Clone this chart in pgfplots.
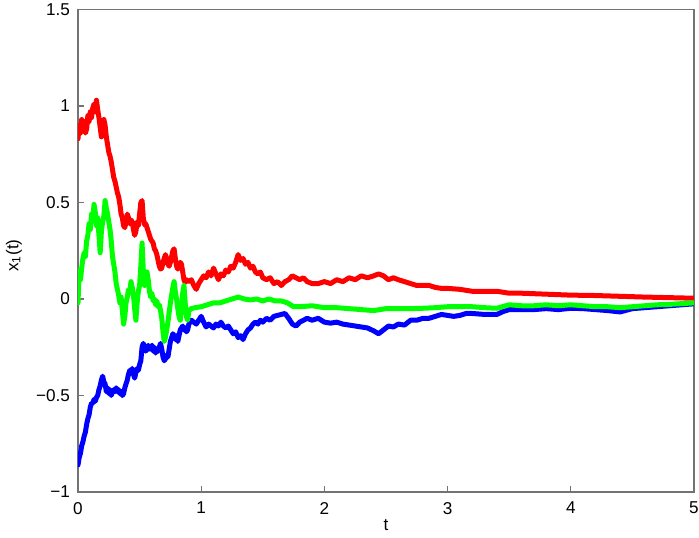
\documentclass[border=0pt]{standalone}
\usepackage{pgfplots}
\pgfplotsset{compat=1.18}
\usepackage{fontspec}
\setmainfont{Liberation Sans}

% x1(t) trajectories
\pgfplotstableread{
t y
0 0.83
0.01 0.90
0.02 0.86
0.03 0.93
0.04 0.88
0.05 0.92
0.06 0.86
0.07 0.88
0.08 0.95
0.09 0.92
0.10 0.97
0.11 0.94
0.12 0.99
0.13 1.01
0.14 0.97
0.15 1.03
0.16 0.98
0.17 0.94
0.18 0.89
0.19 0.84
0.20 0.88
0.21 0.93
0.22 0.90
0.23 0.84
0.24 0.80
0.25 0.76
0.26 0.74
0.27 0.71
0.28 0.67
0.29 0.63
0.30 0.61
0.31 0.58
0.32 0.55
0.33 0.53
0.34 0.49
0.35 0.44
0.36 0.42
0.37 0.38
0.38 0.37
0.39 0.40
0.40 0.44
0.41 0.42
0.42 0.39
0.43 0.41
0.44 0.40
0.45 0.36
0.46 0.33
0.47 0.35
0.48 0.40
0.49 0.38
0.50 0.44
0.51 0.50
0.52 0.51
0.53 0.42
0.54 0.385
0.55 0.39
0.56 0.37
0.57 0.35
0.58 0.33
0.59 0.31
0.60 0.30
0.61 0.29
0.62 0.26
0.63 0.25
0.64 0.23
0.65 0.20
0.66 0.17
0.67 0.155
0.68 0.16
0.69 0.19
0.70 0.21
0.71 0.23
0.72 0.21
0.73 0.18
0.74 0.17
0.75 0.19
0.76 0.22
0.77 0.25
0.78 0.26
0.79 0.21
0.80 0.17
0.81 0.155
0.82 0.17
0.83 0.19
0.84 0.18
0.85 0.14
0.86 0.10
0.87 0.085
0.88 0.10
0.90 0.09
0.92 0.10
0.94 0.07
0.96 0.05
0.98 0.08
1.00 0.10
1.02 0.12
1.04 0.11
1.06 0.14
1.08 0.12
1.10 0.16
1.12 0.13
1.14 0.10
1.16 0.13
1.18 0.12
1.20 0.15
1.22 0.14
1.24 0.17
1.26 0.16
1.28 0.19
1.30 0.23
1.32 0.20
1.34 0.21
1.36 0.18
1.38 0.19
1.40 0.16
1.42 0.17
1.44 0.14
1.46 0.13
1.48 0.14
1.50 0.11
1.53 0.10
1.56 0.11
1.59 0.08
1.62 0.09
1.65 0.07
1.68 0.09
1.71 0.10
1.74 0.12
1.77 0.11
1.80 0.10
1.83 0.11
1.86 0.09
1.90 0.08
1.95 0.08
2.00 0.09
2.05 0.08
2.10 0.10
2.15 0.09
2.20 0.11
2.25 0.10
2.30 0.12
2.35 0.11
2.40 0.12
2.44 0.13
2.48 0.12
2.52 0.10
2.56 0.11
2.60 0.10
2.65 0.09
2.70 0.08
2.75 0.07
2.80 0.07
2.85 0.07
2.90 0.06
2.95 0.055
3.00 0.055
3.10 0.05
3.20 0.04
3.30 0.04
3.40 0.04
3.50 0.03
3.60 0.03
3.80 0.025
4.00 0.02
4.20 0.018
4.40 0.014
4.60 0.01
4.80 0.007
5.00 0.004
}\redtraj

\pgfplotstableread{
t y
0 -0.02
0.01 0.15
0.02 0.10
0.03 0.16
0.04 0.21
0.05 0.24
0.06 0.22
0.07 0.30
0.08 0.33
0.09 0.39
0.10 0.36
0.11 0.44
0.12 0.41
0.13 0.49
0.14 0.45
0.15 0.38
0.16 0.42
0.17 0.33
0.18 0.24
0.19 0.35
0.20 0.40
0.21 0.43
0.22 0.51
0.23 0.47
0.24 0.44
0.25 0.40
0.26 0.36
0.27 0.30
0.28 0.22
0.29 0.18
0.30 0.14
0.31 0.08
0.32 0.05
0.33 0.02
0.34 -0.02
0.35 0.01
0.36 -0.06
0.37 -0.13
0.38 -0.09
0.39 -0.02
0.40 0.01
0.41 0.05
0.42 0.03
0.43 0.09
0.44 0.06
0.45 0.02
0.46 -0.05
0.47 -0.11
0.48 -0.02
0.49 0.04
0.50 0.07
0.51 0.17
0.52 0.29
0.53 0.15
0.54 0.07
0.55 0.11
0.56 0.14
0.57 0.10
0.58 0.04
0.59 0.01
0.60 0.03
0.61 -0.01
0.62 0.00
0.63 -0.03
0.64 -0.01
0.65 -0.04
0.66 -0.03
0.67 -0.06
0.68 -0.10
0.69 -0.17
0.70 -0.22
0.71 -0.20
0.72 -0.16
0.73 -0.12
0.74 -0.07
0.75 -0.02
0.76 0.02
0.77 0.06
0.78 0.09
0.79 0.04
0.80 0.00
0.81 -0.05
0.82 -0.09
0.83 -0.11
0.84 -0.04
0.85 0.03
0.86 0.07
0.87 -0.02
0.88 -0.09
0.89 -0.11
0.90 -0.06
0.92 -0.05
0.95 -0.045
1.00 -0.04
1.05 -0.03
1.10 -0.02
1.15 -0.02
1.20 -0.01
1.25 0.00
1.30 0.01
1.35 0.00
1.40 -0.005
1.45 0.00
1.50 -0.01
1.55 0.00
1.60 -0.01
1.65 -0.01
1.70 -0.02
1.75 -0.04
1.80 -0.04
1.90 -0.035
2.00 -0.045
2.10 -0.045
2.20 -0.05
2.30 -0.055
2.40 -0.06
2.50 -0.05
2.60 -0.05
2.70 -0.05
2.80 -0.048
2.90 -0.045
3.00 -0.04
3.10 -0.04
3.20 -0.04
3.30 -0.045
3.40 -0.048
3.50 -0.03
3.60 -0.035
3.70 -0.035
3.80 -0.03
3.90 -0.035
4.00 -0.03
4.10 -0.035
4.20 -0.04
4.30 -0.04
4.40 -0.045
4.50 -0.04
4.60 -0.035
4.70 -0.03
4.80 -0.028
4.90 -0.024
5.00 -0.02
}\greentraj

\pgfplotstableread{
t y
0 -0.86
0.01 -0.82
0.02 -0.80
0.03 -0.76
0.04 -0.74
0.05 -0.71
0.06 -0.69
0.07 -0.65
0.08 -0.62
0.09 -0.60
0.10 -0.56
0.11 -0.54
0.12 -0.54
0.13 -0.52
0.14 -0.53
0.15 -0.51
0.16 -0.50
0.17 -0.47
0.18 -0.45
0.19 -0.42
0.20 -0.40
0.21 -0.43
0.22 -0.44
0.23 -0.48
0.24 -0.46
0.25 -0.49
0.26 -0.47
0.27 -0.50
0.28 -0.48
0.29 -0.47
0.30 -0.48
0.31 -0.46
0.32 -0.48
0.33 -0.47
0.34 -0.49
0.35 -0.48
0.36 -0.50
0.37 -0.49
0.38 -0.46
0.39 -0.44
0.40 -0.42
0.41 -0.39
0.42 -0.37
0.43 -0.38
0.44 -0.36
0.45 -0.39
0.46 -0.41
0.47 -0.38
0.48 -0.36
0.49 -0.37
0.50 -0.34
0.51 -0.32
0.52 -0.25
0.53 -0.23
0.54 -0.25
0.55 -0.27
0.56 -0.26
0.57 -0.24
0.58 -0.26
0.59 -0.25
0.60 -0.24
0.61 -0.27
0.62 -0.25
0.63 -0.28
0.64 -0.26
0.65 -0.27
0.66 -0.25
0.67 -0.23
0.68 -0.26
0.69 -0.30
0.70 -0.32
0.71 -0.31
0.72 -0.29
0.73 -0.30
0.74 -0.26
0.75 -0.22
0.76 -0.20
0.77 -0.18
0.78 -0.19
0.79 -0.21
0.80 -0.19
0.81 -0.22
0.82 -0.19
0.83 -0.16
0.84 -0.15
0.85 -0.14
0.86 -0.16
0.87 -0.15
0.88 -0.17
0.89 -0.16
0.90 -0.13
0.92 -0.11
0.94 -0.12
0.96 -0.13
0.98 -0.11
1.00 -0.09
1.02 -0.12
1.04 -0.145
1.06 -0.13
1.08 -0.14
1.10 -0.15
1.12 -0.13
1.14 -0.14
1.16 -0.12
1.18 -0.14
1.20 -0.15
1.22 -0.14
1.24 -0.16
1.26 -0.18
1.28 -0.17
1.30 -0.20
1.32 -0.19
1.34 -0.21
1.36 -0.18
1.38 -0.16
1.40 -0.15
1.42 -0.13
1.44 -0.12
1.46 -0.13
1.48 -0.11
1.50 -0.12
1.53 -0.10
1.56 -0.11
1.59 -0.09
1.62 -0.085
1.65 -0.08
1.68 -0.075
1.71 -0.10
1.74 -0.13
1.77 -0.14
1.80 -0.12
1.83 -0.11
1.86 -0.10
1.90 -0.11
1.95 -0.10
2.00 -0.12
2.05 -0.125
2.10 -0.12
2.15 -0.13
2.20 -0.135
2.25 -0.14
2.30 -0.145
2.35 -0.15
2.40 -0.165
2.44 -0.18
2.48 -0.16
2.52 -0.14
2.56 -0.145
2.60 -0.13
2.65 -0.135
2.70 -0.11
2.75 -0.11
2.80 -0.10
2.85 -0.10
2.90 -0.09
2.95 -0.08
3.00 -0.085
3.05 -0.09
3.10 -0.085
3.15 -0.075
3.20 -0.075
3.30 -0.08
3.40 -0.08
3.45 -0.065
3.50 -0.055
3.60 -0.055
3.70 -0.055
3.80 -0.05
3.90 -0.055
4.00 -0.048
4.10 -0.05
4.20 -0.055
4.30 -0.06
4.40 -0.067
4.50 -0.05
4.60 -0.045
4.70 -0.04
4.80 -0.035
4.90 -0.03
5.00 -0.025
}\bluetraj

\begin{document}
\begin{tikzpicture}
\begin{axis}[
  scale only axis,
  width=308bp,height=241.25bp,
  xmin=0,xmax=5,ymin=-1,ymax=1.5,
  xtick={0,1,2,3,4,5},
  xticklabels={0,1,2,3,4,5},
  ytick={-1,-0.5,0,0.5,1,1.5},
  yticklabels={−1,−0.5,0,0.5,1,1.5},
  xtick pos=bottom,ytick pos=left,
  tick align=inside,
  major tick length=3bp,
  axis line style={black!55,line width=0.6pt},
  tick style={black!55,line width=0.6pt},
  tick label style={font=\fontsize{8.6}{10}\selectfont},
  label style={font=\fontsize{8.6}{10}\selectfont},
  xticklabel style={yshift=-1.5bp},
  yticklabel style={xshift=-0.5bp},
  xlabel={t},
  ylabel={x\textsubscript{1}(t)},
  xlabel style={at={(axis description cs:0.5,-0.068)},anchor=center},
  ylabel style={at={(axis description cs:-0.104,0.49)},anchor=center},
  every axis plot/.append style={line width=2.5bp,line join=round,line cap=round},
]
  \addplot[blue] table[x=t,y=y] {\bluetraj};
  \addplot[red] table[x=t,y=y] {\redtraj};
  \addplot[green] table[x=t,y=y] {\greentraj};
  \coordinate (ll) at (rel axis cs:0,0);
  \coordinate (ur) at (rel axis cs:1,1);
\end{axis}
\pgfresetboundingbox
\path[use as bounding box] ([xshift=-39bp,yshift=-23bp]ll) rectangle ([xshift=2.5bp,yshift=4.75bp]ur);
\end{tikzpicture}
\end{document}
